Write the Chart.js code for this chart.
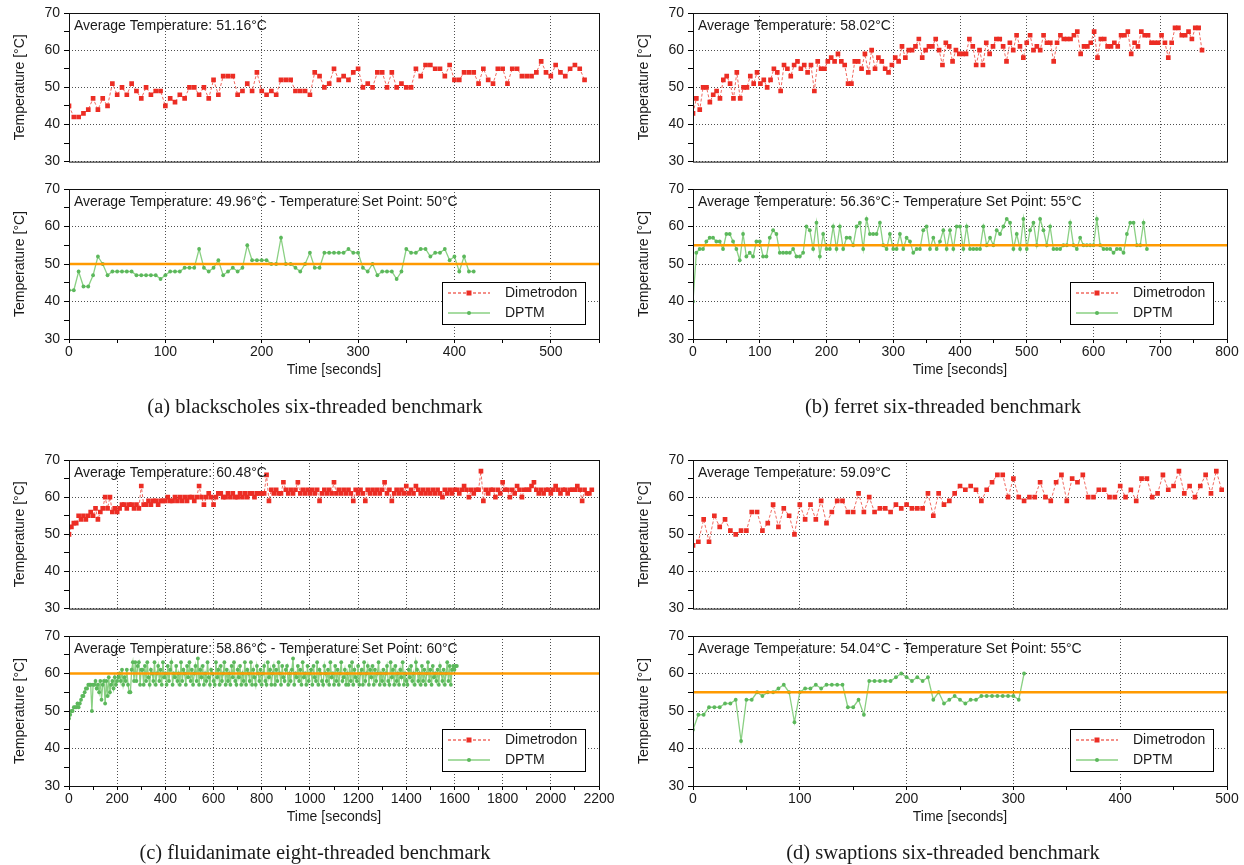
<!DOCTYPE html>
<html>
<head>
<meta charset="utf-8">
<script src="https://cdn.jsdelivr.net/npm/chart.js@4.4.1/dist/chart.umd.min.js"></script>
<style>
  body { margin: 0; background: #fff; width: 1244px; height: 865px; overflow: hidden; position: relative; }
  canvas { position: absolute; }
  .xtitle { position: absolute; font: 14px "Liberation Sans", Arial, sans-serif; color: #1a1a1a; white-space: nowrap; transform: translateX(-50%); line-height: 16px; }
  .caption { position: absolute; font: 20.5px "Liberation Serif", "Times New Roman", serif; color: #1a1a1a; white-space: nowrap; transform: translateX(-50%); line-height: 24px; }
</style>
</head>
<body>
<script>
// temperatures in °C, one sample per period (seconds)
const blackscholesDimetrodon = [
  45,42,42,43,44,47,44,47,45,51, 48,50,48,51,49,47,50,48,49,49,
  45,47,46,48,47,50,50,48,50,47, 52,48,53,53,53,48,49,51,49,54,
  49,48,49,48,52,52,52,49,49,49, 48,54,53,50,51,55,52,53,52,54,
  55,50,51,50,54,54,50,54,50,51, 50,50,55,53,56,56,55,55,53,56,
  52,52,54,54,54,51,55,52,51,55, 55,51,55,55,53,53,53,54,57,54,
  53,56,54,53,55,56,55,52
];
const blackscholesDPTM = [
  43,43,48,44,44,47,52,50,47,48, 48,48,48,48,47,47,47,47,47,46,
  47,48,48,48,49,49,49,54,49,48, 49,51,47,48,49,48,49,55,51,51,
  51,51,50,50,57,50,50,49,48,50, 53,49,49,53,53,53,53,53,54,53,
  53,49,48,50,47,48,48,48,46,48, 54,53,53,54,54,52,53,53,54,51,
  52,48,52,48,48
];
const ferretDimetrodon = [
  43,47,44,50,50,46,48,49,47,52, 53,51,47,54,47,50,50,53,51,54,
  51,52,50,52,55,54,49,56,55,53, 56,57,55,56,54,56,49,57,55,55,
  57,58,57,59,57,56,51,51,57,57, 55,59,54,60,55,58,57,55,54,56,
  58,57,61,58,60,60,61,63,58,60, 61,61,63,60,56,62,61,57,60,59,
  59,59,63,61,56,60,56,62,59,61, 63,63,61,57,62,60,64,61,58,62,
  64,60,61,60,64,62,62,57,62,64, 63,63,63,64,65,59,61,61,62,65,
  58,63,63,61,61,62,61,64,64,65, 59,62,61,65,64,64,62,62,62,64,
  62,58,62,66,66,64,64,65,63,66, 66,60
];
const ferretDPTM = [
  40,53,54,54,56,57,57,56,56,54, 58,58,56,54,51,58,52,53,52,56,
  56,52,52,57,59,58,53,53,53,53, 54,52,52,53,60,59,54,61,52,58,
  54,54,60,54,60,54,57,57,55,60, 61,54,62,58,58,58,61,55,54,58,
  54,54,58,54,57,56,53,54,54,59, 60,54,57,54,56,59,54,59,54,60,
  60,54,60,54,54,54,54,60,55,57, 55,59,58,60,62,61,54,58,54,62,
  54,59,61,55,62,59,55,60,54,54, 54,55,55,61,55,54,57,55,55,55,
  55,62,55,54,54,54,53,54,54,53, 58,61,61,55,55,61,54
];
const fluidanimateDimetrodon = [
  50,52,53,53,55,54,55,54,55,56,55,
  57,54,56,57,60,57,60,56,57,56, 57,58,58,57,58,58,57,58,57,63,
  58,58,59,58,59,59,58,59,59,59, 60,59,59,60,59,60,59,60,59,60,
  60,59,60,63,60,58,60,61,60,58, 60,61,61,60,60,61,60,61,60,60,
  61,60,61,60,61,61,60,61,61,61, 61,66,59,62,61,62,61,61,64,62,
  61,62,61,62,64,61,62,61,62,61, 62,61,62,59,61,62,61,62,61,64,
  61,62,61,62,61,62,61,59,62,61, 62,61,59,62,61,62,61,62,61,62,
  64,61,62,59,61,62,61,62,61,63, 61,62,61,63,62,61,62,61,62,61,
  62,61,62,61,60,62,61,62,61,62, 62,61,62,63,62,60,62,61,62,62,
  67,59,62,61,62,62,60,62,61,64, 62,62,60,62,61,63,62,60,62,62,
  62,63,64,62,61,62,61,62,62,61, 62,63,62,61,62,62,61,62,62,62,
  63,62,59,62,61,61,62
];
const fluidanimateDPTM = [
  48,49,50,50,51,51,51,52,51,52,53,54,54,55,56,56,57,57,57,50,57,
  57,58,56,57,55,58,53,57,58,52, 58,54,59,55,57,58,56,59,57,58,
  59,60,58,61,57,59,58,61,57,55, 55,61,63,58,63,58,62,63,57,61,
  61,57,62,58,63,59,57,61,60,58, 63,57,60,62,58,61,57,63,59,60,
  57,62,58,61,63,57,60,59,62,58, 60,57,63,58,61,60,57,62,59,63,
  58,61,57,60,62,58,64,57,61,59, 62,57,60,58,63,59,57,61,60,58,
  57,63,59,61,57,62,58,60,63,57, 61,58,60,57,62,59,63,58,57,61,
  59,62,57,60,58,63,57,61,60,58, 63,57,61,59,57,62,60,58,61,57,
  60,62,58,57,63,59,61,57,60,62, 57,61,58,63,60,57,62,59,58,61,
  62,57,60,58,61,64,57,60,59,62, 58,61,57,63,59,60,57,62,58,60,
  61,57,62,59,58,63,57,61,60,58, 57,62,60,58,61,57,63,59,60,57,
  62,58,61,57,60,63,58,59,61,57, 60,57,62,58,63,57,61,59,58,62,
  57,60,61,57,63,58,60,62,57,61, 59,62,57,61,58,60,63,57,60,58,
  61,57,60,62,58,57,63,59,61,57, 62,58,60,57,61,59,63,57,60,58,
  57,61,59,62,58,60,57,63,61,58, 60,57,62,58,61,57,60,63,58,61,
  57,62,59,60,58,61,57,62,60,58, 61,57,60,63,58,62,57,61,62,61,
  62,62
];
const swaptionsDimetrodon = [
  47,48,54,48,55,52,54,51,50,51, 51,56,56,51,53,58,52,57,55,50,
  58,54,58,54,59,53,56,59,59,56, 56,61,56,60,56,57,57,56,58,57,
  58,57,57,57,61,55,61,58,59,61, 63,62,63,62,59,62,64,66,66,60,
  65,60,59,60,60,64,60,59,64,66, 59,65,64,66,60,60,62,62,60,60,
  63,60,62,59,65,65,60,61,66,62, 63,67,61,63,60,63,66,61,67,62
];
const swaptionsDPTM = [
  45,49,49,51,51,51,52,52,53,42, 53,53,55,54,55,55,56,57,55,47,
  55,56,56,57,56,57,57,57,57,51, 51,53,49,58,58,58,58,58,59,60,
  59,58,59,58,59,53,55,52,53,54, 53,52,53,53,54,54,54,54,54,54,
  54,53,60
];

// seconds between samples: [Dimetrodon, DPTM]
const samplePeriods = [[5, 5], [5.05, 5], [10, 5], [5, 5]];
const setPoints = [50, 55, 60, 55];
const timeMax = [550, 800, 2200, 500];
const timeMajor = [100, 100, 200, 100];
const dimetrodonNotes = ['Average Temperature: 51.16°C', 'Average Temperature: 58.02°C',
  'Average Temperature: 60.48°C', 'Average Temperature: 59.09°C'];
const dptmNotes = ['Average Temperature: 49.96°C - Temperature Set Point: 50°C',
  'Average Temperature: 56.36°C - Temperature Set Point: 55°C',
  'Average Temperature: 58.86°C - Temperature Set Point: 60°C',
  'Average Temperature: 54.04°C - Temperature Set Point: 55°C'];
const captions = ['(a) blackscholes six-threaded benchmark', '(b) ferret six-threaded benchmark',
  '(c) fluidanimate eight-threaded benchmark', '(d) swaptions six-threaded benchmark'];

const dimetrodonRuns = [blackscholesDimetrodon, ferretDimetrodon, fluidanimateDimetrodon, swaptionsDimetrodon];
const dptmRuns = [blackscholesDPTM, ferretDPTM, fluidanimateDPTM, swaptionsDPTM];

// page layout
const colLeft = [69, 693], colRight = [599, 1227], captionCenter = [315, 943];
const rows = [
  { top: [13, 164], bottom: [189, 339], xtitle: 369, caption: 406 },
  { top: [460, 611], bottom: [636, 786], xtitle: 816, caption: 852 }
];
const TXT = '#1a1a1a', GRID = 'rgba(60,60,60,0.9)';

const styles = {
  Dimetrodon: { line: 'rgba(238,90,80,0.9)', point: '#ec2d24', dash: [3, 2], width: 1, shape: 'rect', r: 3.3 },
  DPTM: { line: '#8ad083', point: '#5cb85c', dash: [], width: 1.3, shape: 'circle', r: 1.9 }
};

Chart.defaults.font.family = '"Liberation Sans", Arial, sans-serif';
Chart.defaults.font.size = 14;
Chart.defaults.color = TXT;

function toPoints(values, step) {
  return values.map((v, i) => ({ x: i * step, y: v }));
}

function lineSet(name, values, step) {
  const s = styles[name];
  return {
    label: name, data: toPoints(values, step),
    borderColor: s.line, borderWidth: s.width, borderDash: s.dash,
    pointStyle: s.shape, pointRadius: s.r, pointBackgroundColor: s.point,
    pointBorderWidth: 0, tension: 0
  };
}

function drawKey(ctx, name, x, y) {
  const s = styles[name];
  ctx.save();
  ctx.strokeStyle = s.line; ctx.lineWidth = s.width + 0.3; ctx.setLineDash(s.dash);
  ctx.beginPath(); ctx.moveTo(x, y); ctx.lineTo(x + 42, y); ctx.stroke();
  ctx.fillStyle = s.point;
  if (s.shape === 'rect') ctx.fillRect(x + 21 - 2.5, y - 2.5, 5, 5);
  else { ctx.beginPath(); ctx.arc(x + 21, y, 2, 0, Math.PI * 2); ctx.fill(); }
  ctx.fillStyle = TXT; ctx.font = '14px "Liberation Sans", Arial, sans-serif';
  ctx.textBaseline = 'middle';
  ctx.fillText(name, x + 57, y + 0.5);
  ctx.restore();
}

function decorations(note, withKey) {
  return {
    id: 'decor',
    afterDatasetsDraw(chart) {
      const { ctx, chartArea: a } = chart;
      ctx.save();
      ctx.strokeStyle = '#111'; ctx.lineWidth = 1;
      ctx.strokeRect(a.left + 0.5, a.top + 0.5, a.right - a.left, a.bottom - a.top);
      ctx.fillStyle = TXT; ctx.font = '14px "Liberation Sans", Arial, sans-serif';
      ctx.textBaseline = 'middle';
      ctx.fillText(note, a.left + 5, a.top + 13);
      if (withKey) {
        const w = 143, h = 42, bx = Math.round(a.right - 14 - w), by = Math.round(a.bottom - 15 - h);
        ctx.fillStyle = '#fff'; ctx.fillRect(bx, by, w, h);
        ctx.strokeStyle = '#000'; ctx.strokeRect(bx + 0.5, by + 0.5, w, h);
        drawKey(ctx, 'Dimetrodon', bx + 6, by + 11);
        drawKey(ctx, 'DPTM', bx + 6, by + 31);
      }
      ctx.restore();
    }
  };
}

function plot(p, col, span, lower) {
  const Y_W = 69, PAD_T = 20, PAD_R = 24;
  const xH = lower ? 26 : 0, PAD_B = lower ? 0 : 10;
  const left = colLeft[col], right = colRight[col];
  const cLeft = left - Y_W, cTop = span[0] - PAD_T;
  const cv = document.createElement('canvas');
  cv.width = right - cLeft + PAD_R;
  cv.height = PAD_T + (span[1] - span[0]) + xH + PAD_B;
  cv.style.left = cLeft + 'px';
  cv.style.top = cTop + 'px';
  document.body.appendChild(cv);

  const major = timeMajor[p], minor = major / 2;
  const datasets = [];
  if (lower) {
    datasets.push({
      label: 'set point', data: [{ x: 0, y: setPoints[p] }, { x: timeMax[p], y: setPoints[p] }],
      borderColor: '#ff9a00', borderWidth: 2.6, pointRadius: 0
    });
    datasets.push(lineSet('DPTM', dptmRuns[p], samplePeriods[p][1]));
  } else {
    datasets.push(lineSet('Dimetrodon', dimetrodonRuns[p], samplePeriods[p][0]));
  }

  new Chart(cv, {
    type: 'line',
    data: { datasets },
    options: {
      responsive: false, animation: false, devicePixelRatio: 1,
      layout: { padding: { top: PAD_T, right: PAD_R, bottom: PAD_B, left: 0 } },
      plugins: { legend: { display: false }, tooltip: { enabled: false } },
      scales: {
        x: {
          type: 'linear', min: 0, max: timeMax[p],
          afterFit(s) { s.height = xH; },
          ticks: {
            display: lower, stepSize: minor, autoSkip: false, maxRotation: 0, padding: 1,
            callback: v => (v % major === 0 ? v : '')
          },
          grid: {
            color: c => (c.tick && c.tick.value % major === 0 ? GRID : 'rgba(0,0,0,0)'),
            drawTicks: lower, tickLength: 4, tickColor: '#000', tickBorderDash: []
          },
          border: { display: false, dash: [1, 2] }
        },
        y: {
          min: 30, max: 70,
          afterFit(s) { s.width = Y_W; },
          ticks: { stepSize: 5, autoSkip: false, padding: 4, callback: v => (v % 10 === 0 ? v : '') },
          grid: {
            color: c => (c.tick && c.tick.value % 10 === 0 ? GRID : 'rgba(0,0,0,0)'),
            tickLength: 5, tickColor: '#000', tickBorderDash: []
          },
          border: { display: false, dash: [1, 2] },
          title: { display: true, text: 'Temperature [°C]', padding: { top: 12, bottom: 0 } }
        }
      }
    },
    plugins: [decorations(lower ? dptmNotes[p] : dimetrodonNotes[p], lower)]
  });
}

function text(cls, str, x, yCenter, lh) {
  const d = document.createElement('div');
  d.className = cls;
  d.textContent = str;
  d.style.left = x + 'px';
  d.style.top = (yCenter - lh / 2) + 'px';
  document.body.appendChild(d);
}

for (let p = 0; p < 4; p++) {
  const col = p % 2, row = rows[Math.floor(p / 2)];
  plot(p, col, row.top, false);
  plot(p, col, row.bottom, true);
  const cx = (colLeft[col] + colRight[col]) / 2;
  text('xtitle', 'Time [seconds]', cx, row.xtitle, 16);
  text('caption', captions[p], captionCenter[col], row.caption, 24);
}
</script>
</body>
</html>
